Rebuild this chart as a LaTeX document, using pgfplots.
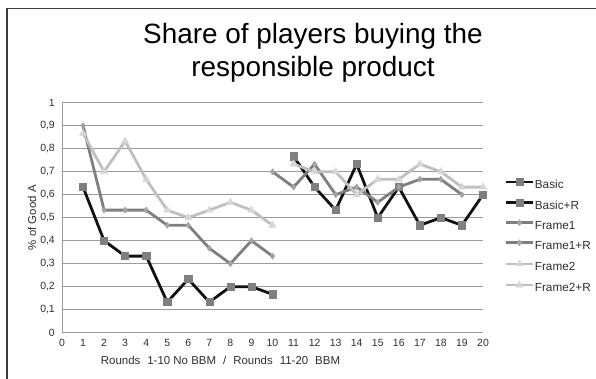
\documentclass[border=0pt]{standalone}
\usepackage{fontspec}
\setmainfont{Liberation Sans}
\usepackage{pgfplots}
\pgfplotsset{compat=1.18}
\definecolor{cBasic}{HTML}{111111}
\definecolor{mBasic}{HTML}{7F7F7F}
\definecolor{cFa}{HTML}{7F7F7F}
\definecolor{mFa}{HTML}{A3A3A3}
\definecolor{cFb}{HTML}{BFBFBF}
\definecolor{mFb}{HTML}{D6D6D6}
\definecolor{gridc}{HTML}{9A9A9A}
\definecolor{txt}{HTML}{2E2E2E}
\definecolor{framec}{HTML}{3C3C3C}
\begin{document}
\begin{tikzpicture}
\useasboundingbox (-62bp,-46.3bp) rectangle (534bp,332.7bp);
\draw[color=framec, line width=1.6bp] (-55bp,-60bp) -- (-55bp,324.2bp) -- (560bp,324.2bp);
\node[anchor=base, font=\fontsize{28}{32}\selectfont, text=black] at (251bp,289.2bp) {Share of players buying the};
\node[anchor=base, font=\fontsize{28}{32}\selectfont, text=black] at (251bp,255.7bp) {responsible product};
\begin{axis}[
  at={(0,0)}, anchor=south west,
  scale only axis, width=421bp, height=230bp,
  xmin=0, xmax=20, ymin=0, ymax=1,
  xtick={0,1,2,3,4,5,6,7,8,9,10,11,12,13,14,15,16,17,18,19,20},
  ytick={0,0.1,0.2,0.3,0.4,0.5,0.6,0.7,0.8,0.9,1},
  axis x line*=bottom, axis y line*=left,
  axis line style={gridc, line width=0.8bp, -},
  ymajorgrids, grid style={gridc, line width=0.8bp},
  major tick length=0pt,
  tick style={draw=none},
  /pgf/number format/assume math mode=true,
  /pgf/number format/use comma,
  yticklabel style={/pgf/number format/fixed, font=\fontsize{10.5}{12}\selectfont, text=txt, inner sep=0pt, xshift=-7bp},
  xticklabel style={font=\fontsize{10.5}{12}\selectfont, text=txt, inner sep=0pt, yshift=-6.5bp},
  ylabel={\%\ of\ Good\ A},
  ylabel style={at={(axis description cs:-0.0713,0.5)}, anchor=center, font=\fontsize{11.5}{13}\selectfont, text=txt},
  xlabel={Rounds\hspace{7bp}1-10 No BBM\hspace{7bp}/\hspace{7bp}Rounds\hspace{7bp}11-20\hspace{7bp}BBM},
  xlabel style={at={(axis description cs:0.3765,-0.1187)}, anchor=center, font=\fontsize{11.5}{13}\selectfont, text=txt},
  legend style={at={(axis description cs:1.052,0.672)}, anchor=north west, draw=none, fill=none, inner sep=0pt, row sep=8.6bp, font=\fontsize{11.8}{13}\selectfont, text=txt, nodes={inner sep=0pt, text height=8bp, text depth=2bp}},
  legend cell align=left,
  legend image code/.code={\draw[mark repeat=2,mark phase=2,#1] plot coordinates {(0bp,3.5bp)(13bp,3.5bp)(27bp,3.5bp)};},
  clip=false,
]
\addplot[color=cBasic, line width=2.8bp, mark=square*, mark size=3.6bp, mark options={fill=mBasic, draw=mBasic, line width=0.5bp}]
  coordinates {(1,0.633)(2,0.4)(3,0.333)(4,0.333)(5,0.133)(6,0.233)(7,0.133)(8,0.2)(9,0.2)(10,0.167)};
\addlegendentry{Basic}
\addplot[color=cBasic, line width=2.8bp, mark=square*, mark size=3.6bp, mark options={fill=mBasic, draw=mBasic, line width=0.5bp}]
  coordinates {(11,0.767)(12,0.633)(13,0.533)(14,0.733)(15,0.5)(16,0.633)(17,0.467)(18,0.5)(19,0.467)(20,0.6)};
\addlegendentry{Basic+R}
\addplot[color=cFa, line width=2.8bp, mark=diamond*, mark size=3bp, mark options={fill=mFa, draw=mFa, line width=0.5bp}]
  coordinates {(1,0.9)(2,0.533)(3,0.533)(4,0.533)(5,0.467)(6,0.467)(7,0.367)(8,0.3)(9,0.4)(10,0.333)};
\addlegendentry{Frame1}
\addplot[color=cFa, line width=2.8bp, mark=diamond*, mark size=3bp, mark options={fill=mFa, draw=mFa, line width=0.5bp}]
  coordinates {(10,0.7)(11,0.633)(12,0.733)(13,0.6)(14,0.633)(15,0.567)(16,0.633)(17,0.667)(18,0.667)(19,0.6)};
\addlegendentry{Frame1+R}
\addplot[color=cFb, line width=2.8bp, mark=triangle*, mark size=4bp, mark options={fill=mFb, draw=mFb, line width=0.5bp}]
  coordinates {(1,0.867)(2,0.7)(3,0.833)(4,0.667)(5,0.533)(6,0.5)(7,0.533)(8,0.567)(9,0.533)(10,0.467)};
\addlegendentry{Frame2}
\addplot[color=cFb, line width=2.8bp, mark=triangle*, mark size=4bp, mark options={fill=mFb, draw=mFb, line width=0.5bp}]
  coordinates {(11,0.733)(12,0.7)(13,0.7)(14,0.6)(15,0.667)(16,0.667)(17,0.733)(18,0.7)(19,0.633)(20,0.633)};
\addlegendentry{Frame2+R}
\end{axis}
\end{tikzpicture}
\end{document}
